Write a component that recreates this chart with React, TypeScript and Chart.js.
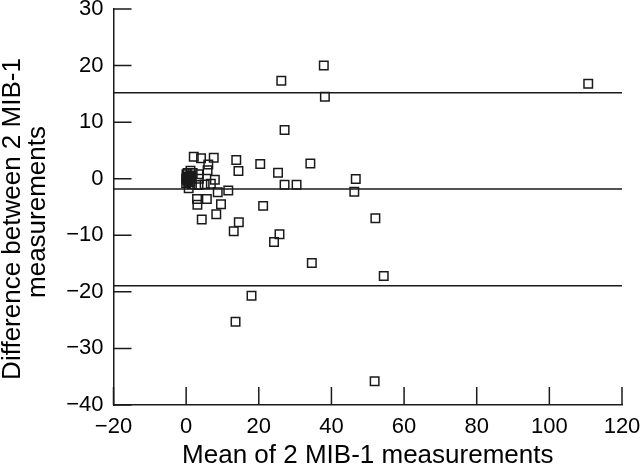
import React, { useEffect, useRef } from "react";
import { Chart, registerables } from "chart.js";

Chart.register(...registerables);

const meanValues: number[] = [
  110.7, 37.9, 26.2, 38.2, 27.1, 7.6, 4.1, 2.1, 6.1, 5.9, 13.8, 14.4, 20.4, 25.3, 34.2,
  46.7, 46.3, 27.1, 30.4, 7.9, 6.8, 5.1, 3.4, 8.7, 11.6, 5.7, 3.0, 3.1, 9.6, 21.2,
  8.3, 4.3, 14.5, 13.1, 25.7, 24.2, 52.1, 34.6, 54.4, 18.0, 13.6, 51.9, 1.2, 3.4, 3.5, 0.7,
  0.0, 0.2, 0.5, 0.3, 0.8, 0.1, 0.6, 1.0, 1.5, 1.2, 0.4, 0.0, 1.8, 1.6,
];
const diffValues: number[] = [
  16.8, 20.0, 17.3, 14.5, 8.6, 3.7, 3.6, 3.9, 2.5, 1.5, 3.3, 1.35, 2.6, 1.05, 2.7,
  -0.05, -2.3, -1.05, -1.05, -0.2, -0.9, -1.0, -1.1, -2.4, -2.1, -3.6, -3.6, -4.6, -4.5, -4.8,
  -6.3, -7.2, -7.7, -9.3, -9.8, -11.2, -7.0, -14.9, -17.2, -20.7, -25.3, -35.8, 1.4, 0.8, 0.0, -1.7,
  0.0, 0.4, 0.1, -0.3, 0.3, 0.8, -0.6, 0.0, 0.5, -0.5, 1.0, -0.8, 1.0, -1.0,
];
const limitValues: number[] = [15.2, -1.8, -18.9];
const xRange: number[] = [-20, 120];
const yRange: number[] = [-40, 30];
const xTitle = "Mean of 2 MIB-1 measurements";
const yTitle: string[] = ["Difference between 2 MIB-1", "measurements"];

const FONT = "'Liberation Sans', Arial, Helvetica, sans-serif";
const INK = "#1a1a1a";

const innerTicks = {
  id: "innerTicks",
  afterDraw(chart: any) {
    const { ctx, chartArea, scales } = chart;
    const len = 18;
    ctx.save();
    ctx.strokeStyle = INK;
    ctx.lineWidth = 1.5;
    ctx.beginPath();
    scales.x.ticks.forEach((t: any) => {
      const px = scales.x.getPixelForValue(t.value);
      ctx.moveTo(px, chartArea.bottom);
      ctx.lineTo(px, chartArea.bottom - len);
    });
    scales.y.ticks.forEach((t: any) => {
      const py = scales.y.getPixelForValue(t.value);
      ctx.moveTo(chartArea.left, py);
      ctx.lineTo(chartArea.left + len, py);
    });
    ctx.stroke();
    ctx.restore();
  },
};

const yTitlePlugin = {
  id: "yTitlePlugin",
  afterDraw(chart: any) {
    const { ctx, chartArea } = chart;
    const mid = (chartArea.top + chartArea.bottom) / 2;
    const spots = [
      { x: 13, y: mid + 12 },
      { x: 38, y: mid + 5 },
    ];
    ctx.save();
    ctx.fillStyle = "#000";
    ctx.font = `26px ${FONT}`;
    ctx.textAlign = "center";
    ctx.textBaseline = "middle";
    yTitle.forEach((line, i) => {
      ctx.save();
      ctx.translate(spots[i].x, spots[i].y);
      ctx.rotate(-Math.PI / 2);
      ctx.fillText(line, 0, 0);
      ctx.restore();
    });
    ctx.restore();
  },
};

const minus = (v: any) => String(v).replace("-", "\u2212");

export default function App() {
  const ref = useRef<HTMLCanvasElement | null>(null);
  useEffect(() => {
    if (!ref.current) return;
    const points = meanValues.map((x, i) => ({ x, y: diffValues[i] }));
    const lineSets = limitValues.map((v) => ({
      type: "line" as const,
      data: [
        { x: xRange[0], y: v },
        { x: xRange[1], y: v },
      ],
      borderColor: INK,
      borderWidth: 1.5,
      pointRadius: 0,
      fill: false,
    }));
    const chart = new Chart(ref.current, {
      type: "scatter",
      data: {
        datasets: [
          ...lineSets,
          {
            type: "scatter" as const,
            data: points,
            pointStyle: "rect",
            pointRadius: 6,
            borderColor: INK,
            borderWidth: 1.5,
            backgroundColor: "rgba(0,0,0,0)",
          },
        ] as any,
      },
      options: {
        animation: false,
        responsive: false,
        events: [],
        layout: { padding: { top: 9, right: 18, left: 0, bottom: 0 } },
        plugins: { legend: { display: false }, tooltip: { enabled: false } },
        scales: {
          x: {
            type: "linear",
            min: xRange[0],
            max: xRange[1],
            grid: { display: false, drawTicks: false },
            border: { display: true, color: INK, width: 1.5 },
            ticks: {
              stepSize: 20,
              padding: 9,
              color: "#000",
              font: { family: FONT, size: 22 },
              callback: (v: any) => minus(v),
              maxRotation: 0,
            },
            title: {
              display: true,
              text: xTitle,
              color: "#000",
              font: { family: FONT, size: 26 },
              padding: { top: 10, bottom: 0 },
            },
            afterFit: (s: any) => {
              s.height = 66;
              s.paddingLeft = 0;
              s.paddingRight = 0;
            },
          },
          y: {
            type: "linear",
            min: yRange[0],
            max: yRange[1],
            grid: { display: false, drawTicks: false },
            border: { display: true, color: INK, width: 1.5 },
            ticks: {
              stepSize: 10,
              padding: 10,
              color: "#000",
              font: { family: FONT, size: 22 },
              callback: (v: any) => minus(v),
            },
            title: { display: false },
            afterFit: (s: any) => {
              s.width = 113.5;
              s.paddingTop = 0;
              s.paddingBottom = 0;
            },
          },
        },
      },
      plugins: [innerTicks, yTitlePlugin],
    });
    return () => chart.destroy();
  }, []);
  return (
    <div style={{ position: "fixed", left: 0, top: 0, width: 640, height: 471, background: "#fff" }}>
      <canvas ref={ref} width={640} height={471} style={{ width: 640, height: 471 }} />
    </div>
  );
}
